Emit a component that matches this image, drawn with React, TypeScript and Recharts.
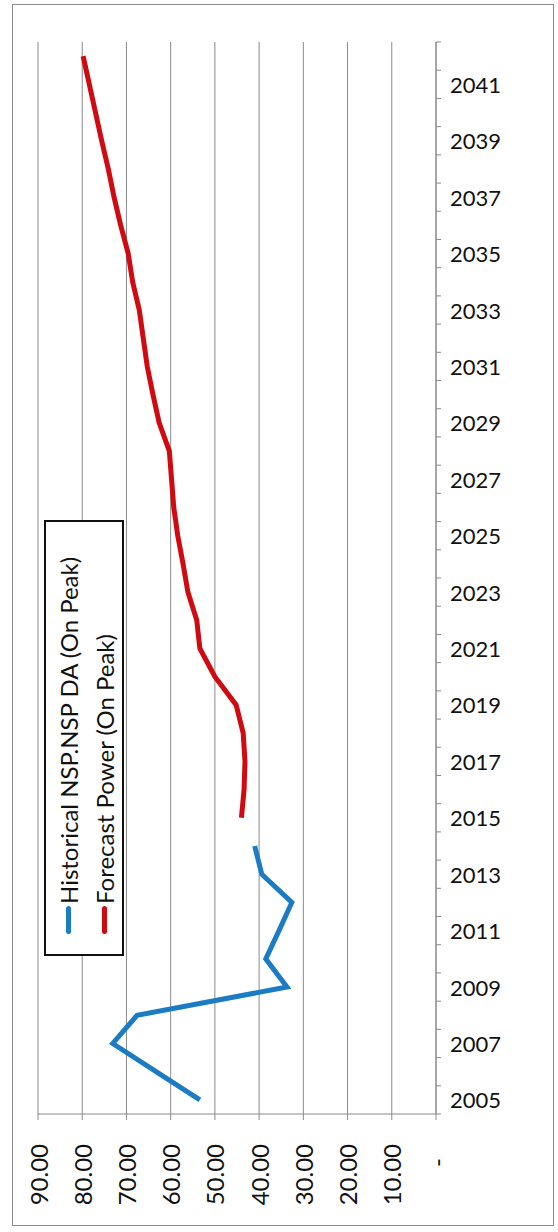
import React from 'react';
import { LineChart, Line, XAxis, YAxis, CartesianGrid, Legend } from 'recharts';

// Years shown on the category axis
const YEARS = [
  2005, 2006, 2007, 2008, 2009, 2010, 2011, 2012, 2013, 2014,
  2015, 2016, 2017, 2018, 2019, 2020, 2021, 2022, 2023, 2024,
  2025, 2026, 2027, 2028, 2029, 2030, 2031, 2032, 2033, 2034,
  2035, 2036, 2037, 2038, 2039, 2040, 2041, 2042,
];

// Historical NSP.NSP DA on-peak price, 2005-2014
const HISTORICAL = [53.4, 63.3, 73.1, 67.6, 33.7, 38.5, 35.5, 32.6, 39.4, 41.0];
const HISTORICAL_START = 2005;

// Forecast on-peak power price, 2015-2042
const FORECAST = [
  44.0, 43.4, 43.2, 43.6, 45.2, 50.0, 53.4, 54.1, 56.1, 57.2,
  58.4, 59.3, 59.8, 60.3, 62.6, 64.0, 65.3, 66.2, 67.1, 68.6,
  69.6, 71.3, 72.8, 74.1, 75.6, 77.0, 78.4, 79.8,
];
const FORECAST_START = 2015;

const VALUE_TICKS = [0, 10, 20, 30, 40, 50, 60, 70, 80, 90];

const SERIES_NAMES = ['Historical NSP.NSP DA (On Peak)', 'Forecast Power (On Peak)'];

const rows = YEARS.map((year) => ({
  year,
  historical: HISTORICAL[year - HISTORICAL_START] ?? null,
  forecast: FORECAST[year - FORECAST_START] ?? null,
}));

// tick marks sit on the boundaries between years, like a category axis
const YEAR_BOUNDS = [...YEARS.map((y) => y - 0.5), YEARS[YEARS.length - 1] + 0.5];

const W = 558;
const H = 1232;
const MARGIN = { top: 42, right: 0, bottom: 0, left: 38 };
const X_AXIS_H = 118;
const Y_AXIS_W = 122;
const PLOT_H = H - MARGIN.top - MARGIN.bottom - X_AXIS_H;
const HALF_BAND = PLOT_H / YEARS.length / 2;

const FONT = 'Lato, "Open Sans", sans-serif';
const AXIS_GREY = '#8a8a8a';

const YearTick = ({ x, y, payload }: any) => {
  const year = payload.value + 0.5;
  if (year % 2 === 0 || year > 2041) return null;
  return (
    <text x={x + 7} y={y - HALF_BAND} dominantBaseline="central" fontSize={22} fontFamily={FONT} fill="#111">
      {year}
    </text>
  );
};

const ValueTick = ({ x, y, payload }: any) => {
  const v = payload.value;
  const label = v === 0 ? '-' : v.toFixed(2);
  const yy = v === 0 ? y + 36 : y + 22;
  return (
    <text
      x={x}
      y={yy}
      transform={`rotate(-90, ${x}, ${yy})`}
      textAnchor="end"
      dominantBaseline="central"
      fontSize={24}
      fontFamily={FONT}
      fill="#111"
    >
      {label}
    </text>
  );
};

const LegendBox = ({ payload }: any) => {
  const items = [...(payload || [])].sort(
    (a: any, b: any) => SERIES_NAMES.indexOf(a.value) - SERIES_NAMES.indexOf(b.value)
  );
  return (
    <div
      style={{
        boxSizing: 'border-box',
        width: '100%',
        height: '100%',
        border: '2px solid #111',
        background: '#fff',
        padding: '4px 0 0 20px',
        fontFamily: FONT,
        fontSize: 24,
        color: '#111',
      }}
    >
      {items.map((p: any) => (
        <div key={p.value} style={{ display: 'flex', alignItems: 'center', height: 36 }}>
          <span style={{ display: 'inline-block', width: 28, height: 5, borderRadius: 2.5, background: p.color }} />
          <span style={{ marginLeft: 2, whiteSpace: 'nowrap' }}>{p.value}</span>
        </div>
      ))}
    </div>
  );
};

export default function App() {
  return (
    <div style={{ position: 'absolute', top: 0, left: 0, width: W, height: H, background: '#fff' }}>
      <div
        style={{
          position: 'absolute',
          left: 12,
          top: 4,
          width: 542,
          height: 1222,
          border: '1px solid #8a8a8a',
          boxSizing: 'border-box',
        }}
      />
      <LineChart layout="vertical" width={W} height={H} data={rows} margin={MARGIN}>
        <CartesianGrid horizontal={false} stroke={AXIS_GREY} />
        <XAxis
          type="number"
          domain={[0, 90]}
          ticks={VALUE_TICKS}
          reversed
          allowDataOverflow
          height={X_AXIS_H}
          tick={<ValueTick />}
          tickSize={6}
          stroke={AXIS_GREY}
          interval={0}
        />
        <YAxis
          type="number"
          dataKey="year"
          orientation="right"
          reversed
          domain={[YEAR_BOUNDS[0], YEAR_BOUNDS[YEAR_BOUNDS.length - 1]]}
          ticks={YEAR_BOUNDS}
          allowDecimals
          width={Y_AXIS_W}
          tick={<YearTick />}
          tickSize={5}
          stroke={AXIS_GREY}
          interval={0}
        />
        <Line
          dataKey="historical"
          name={SERIES_NAMES[0]}
          stroke="#1c7cc3"
          strokeWidth={5}
          dot={false}
          isAnimationActive={false}
        />
        <Line
          dataKey="forecast"
          name={SERIES_NAMES[1]}
          stroke="#d00a10"
          strokeWidth={5}
          dot={false}
          isAnimationActive={false}
        />
        <Legend
          layout="vertical"
          align="center"
          verticalAlign="middle"
          content={<LegendBox />}
          wrapperStyle={{
            left: 44,
            top: 956,
            width: 436,
            height: 80,
            transform: 'rotate(-90deg)',
            transformOrigin: '0 0',
          }}
        />
      </LineChart>
    </div>
  );
}
